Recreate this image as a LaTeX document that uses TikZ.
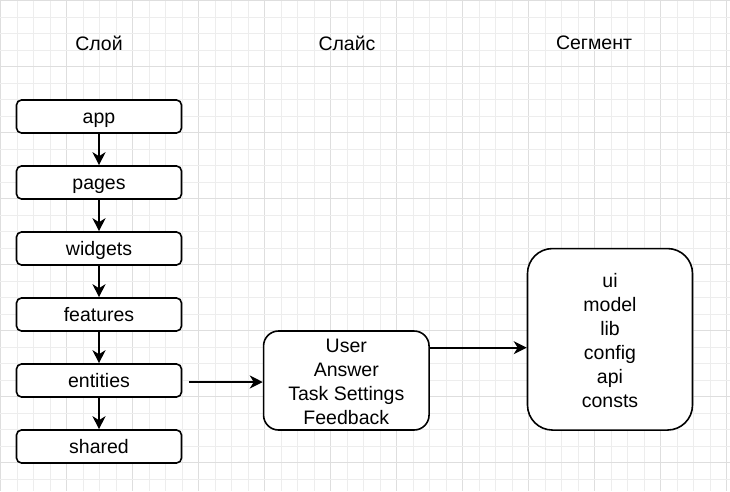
\documentclass[tikz,border=0pt]{standalone}
\usepackage{fontspec}
\setmainfont{Liberation Sans}
\usetikzlibrary{arrows.meta,calc}
\begin{document}
\begin{tikzpicture}[x=1pt,y=-1pt,
  txt/.style={font=\fontsize{19.5}{24}\selectfont, text=black, align=center, inner sep=0pt},
  layerbox/.style={txt, draw=black, fill=white, line width=1.6pt, rounded corners=5pt, minimum width=165pt, minimum height=33pt, text height=18pt, text depth=4.4pt},
  bigbox/.style={draw=black, fill=white, line width=1.6pt, inner sep=0pt},
  arr/.style={draw=black, line width=1.6pt, -{Stealth[length=13pt,width=13pt,inset=4pt]}}
]
\useasboundingbox (0,0) rectangle (730,491);
\fill[white] (0,0) rectangle (730,491);
% grid
\foreach \k in {0,...,44} {
  \pgfmathsetmacro{\xx}{0.5+16.5*\k}
  \pgfmathtruncatemacro{\mm}{mod(\k,4)}
  \ifnum\mm=0
    \draw[color=black!13, line width=0.9pt] (\xx,0) -- (\xx,491);
  \else
    \draw[color=black!7, line width=0.9pt] (\xx,0) -- (\xx,491);
  \fi
}
\foreach \k in {0,...,29} {
  \pgfmathsetmacro{\yy}{0.5+16.5*\k}
  \pgfmathtruncatemacro{\mm}{mod(\k,4)}
  \ifnum\mm=0
    \draw[color=black!13, line width=0.9pt] (0,\yy) -- (730,\yy);
  \else
    \draw[color=black!7, line width=0.9pt] (0,\yy) -- (730,\yy);
  \fi
}
% headers
\node[txt] (h1) at (99,43) {Слой};
\node[txt] (h2) at (347,43) {Слайс};
\node[txt] (h3) at (594,43) {Сегмент};
% layers
\node[layerbox] (app) at (99,116.5) {app};
\node[layerbox] (pages) at (99,182.5) {pages};
\node[layerbox] (widgets) at (99,248.5) {widgets};
\node[layerbox] (features) at (99,314.5) {features};
\node[layerbox] (entities) at (99,380.5) {entities};
\node[layerbox] (shared) at (99,446.5) {shared};
\draw[arr] (app) -- (pages);
\draw[arr] (pages) -- (widgets);
\draw[arr] (widgets) -- (features);
\draw[arr] (features) -- (entities);
\draw[arr] (entities) -- (shared);
% slice box
\node[bigbox, rounded corners=15pt, minimum width=165.5pt, minimum height=99pt] (slice) at (346.3,380.5) {};
\node[txt] (slicetxt) at ([yshift=-1.6pt]slice.center) {User\\Answer\\Task Settings\\Feedback};
% segment box
\node[bigbox, rounded corners=25pt, minimum width=165pt, minimum height=181.5pt] (seg) at (610,339.3) {};
\node[txt] (segtxt) at ([yshift=-1.6pt]seg.center) {ui\\model\\lib\\config\\api\\consts};
\draw[arr] ([xshift=6.5pt,yshift=-1.5pt]entities.east) -- ([yshift=-1.5pt]entities.east -| slice.west);
\draw[arr] ([yshift=32.8pt]slice.east) -- ([yshift=32.8pt]slice.east -| seg.west);
\end{tikzpicture}
\end{document}
